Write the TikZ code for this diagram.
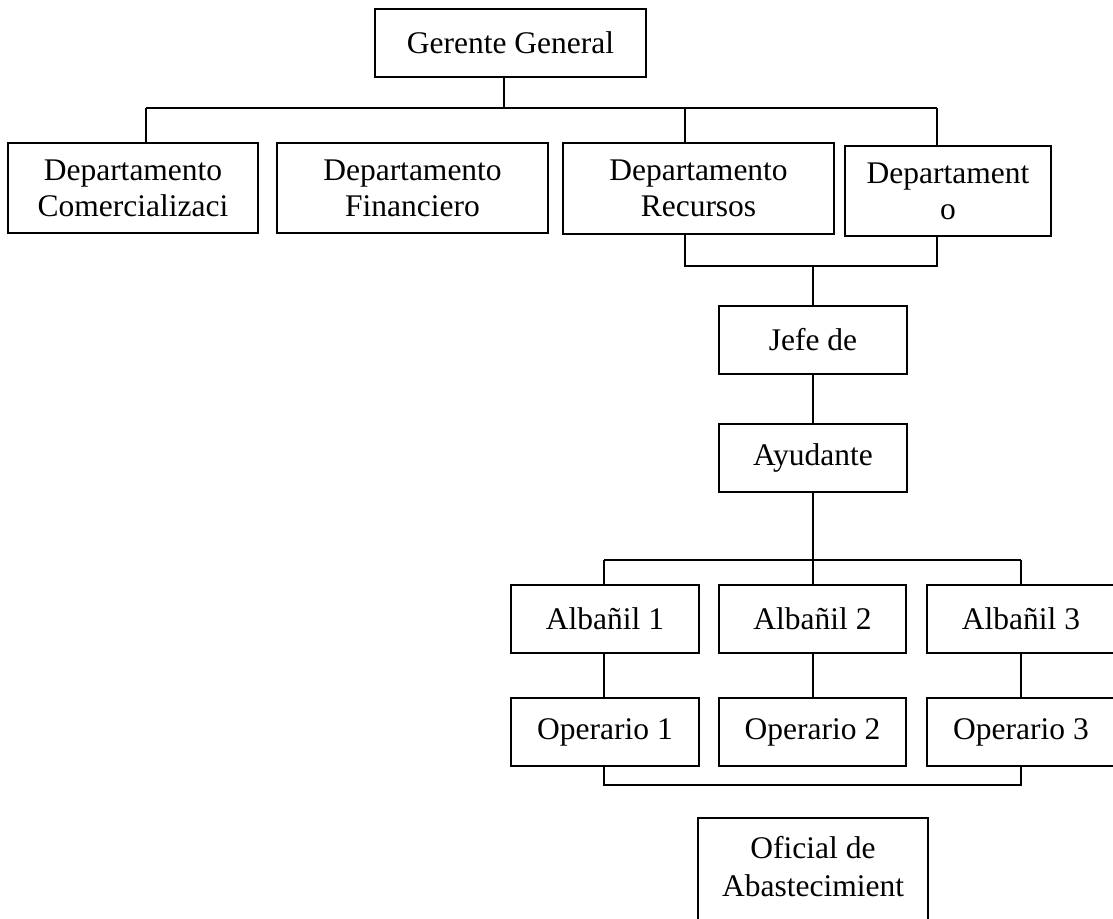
\documentclass[tikz,border=0pt]{standalone}
\usepackage{fontspec}
\setmainfont{Liberation Serif}
\begin{document}
\begin{tikzpicture}[x=1pt,y=-1pt,
  box/.style={draw, line width=1.9pt, rectangle, inner sep=0pt, align=center,
              font=\fontsize{31.5}{36}\selectfont},
  txt/.style={inner sep=0pt, align=center, font=\fontsize{31.5}{38}\selectfont},
  wire/.style={line width=1.6pt}]
\path[use as bounding box] (0,0) rectangle (1113,918);
\clip (0,0) rectangle (1113,918);

% top level
\node[box, minimum width=271, minimum height=68] (gg) at (510.5,43) {Gerente General};

% departments
\node[box, minimum width=250, minimum height=90] (d1) at (133,188) {Departamento\\Comercializaci};
\node[box, minimum width=271, minimum height=90] (d2) at (412.5,188) {Departamento\\Financiero};
\node[box, minimum width=271, minimum height=91] (d3) at (698.5,188.5) {Departamento\\Recursos};
\node[box, minimum width=206, minimum height=90] (d4) at (948,191) {Departament\\o};

% site staff
\node[box, minimum width=188, minimum height=68] (jefe) at (813,340) {Jefe de};
\node[box, minimum width=188, minimum height=68] (ayud) at (813,458) {Ayudante};

\node[box, minimum width=188, minimum height=68] (a1) at (605,619) {Albañil 1};
\node[box, minimum width=187, minimum height=68] (a2) at (812.5,619) {Albañil 2};
\node[box, minimum width=188, minimum height=68] (a3) at (1021,619) {Albañil 3};

\node[box, minimum width=188, minimum height=68] (o1) at (605,732) {Operario 1};
\node[box, minimum width=187, minimum height=68] (o2) at (812.5,732) {Operario 2};
\node[box, minimum width=188, minimum height=68] (o3) at (1021,732) {Operario 3};

\node[box, minimum width=230, minimum height=115] (of) at (813,875.5) {};
\node[txt] (oft) at (813,867) {Oficial de\\Abastecimient};

% bus coordinates
\coordinate (b1L) at (146,108);
\coordinate (b1M) at (504,108);
\coordinate (b1C) at (685,108);
\coordinate (b1R) at (937,108);
\coordinate (b2L) at (685,266);
\coordinate (b2M) at (813,266);
\coordinate (b2R) at (937,266);
\coordinate (b3L) at (604,560);
\coordinate (b3M) at (813,560);
\coordinate (b3R) at (1021,560);
\coordinate (b4L) at (604,785);
\coordinate (b4R) at (1021,785);

% general manager to departments
\draw[wire] (gg.south -| b1M) -- (b1M);
\draw[wire] (b1L) -- (b1R);
\draw[wire] (b1L) -- (b1L |- d1.north);
\draw[wire] (b1C) -- (b1C |- d3.north);
\draw[wire] (b1R) -- (b1R |- d4.north);

% departments to site chief
\draw[wire] (d3.south -| b2L) -- (b2L) -- (b2R) -- (d4.south -| b2R);
\draw[wire] (b2M) -- (jefe.north);
\draw[wire] (jefe.south) -- (ayud.north);

% assistant to bricklayers
\draw[wire] (ayud.south) -- (b3M);
\draw[wire] (b3L) -- (b3R);
\draw[wire] (b3L) -- (b3L |- a1.north);
\draw[wire] (b3M) -- (b3M |- a2.north);
\draw[wire] (b3R) -- (b3R |- a3.north);

% bricklayers to workers
\draw[wire] (a1.south -| b3L) -- (o1.north -| b3L);
\draw[wire] (a2.south -| b3M) -- (o2.north -| b3M);
\draw[wire] (a3.south -| b3R) -- (o3.north -| b3R);

% workers bracket
\draw[wire] (o1.south -| b4L) -- (b4L) -- (b4R) -- (o3.south -| b4R);
\end{tikzpicture}
\end{document}
